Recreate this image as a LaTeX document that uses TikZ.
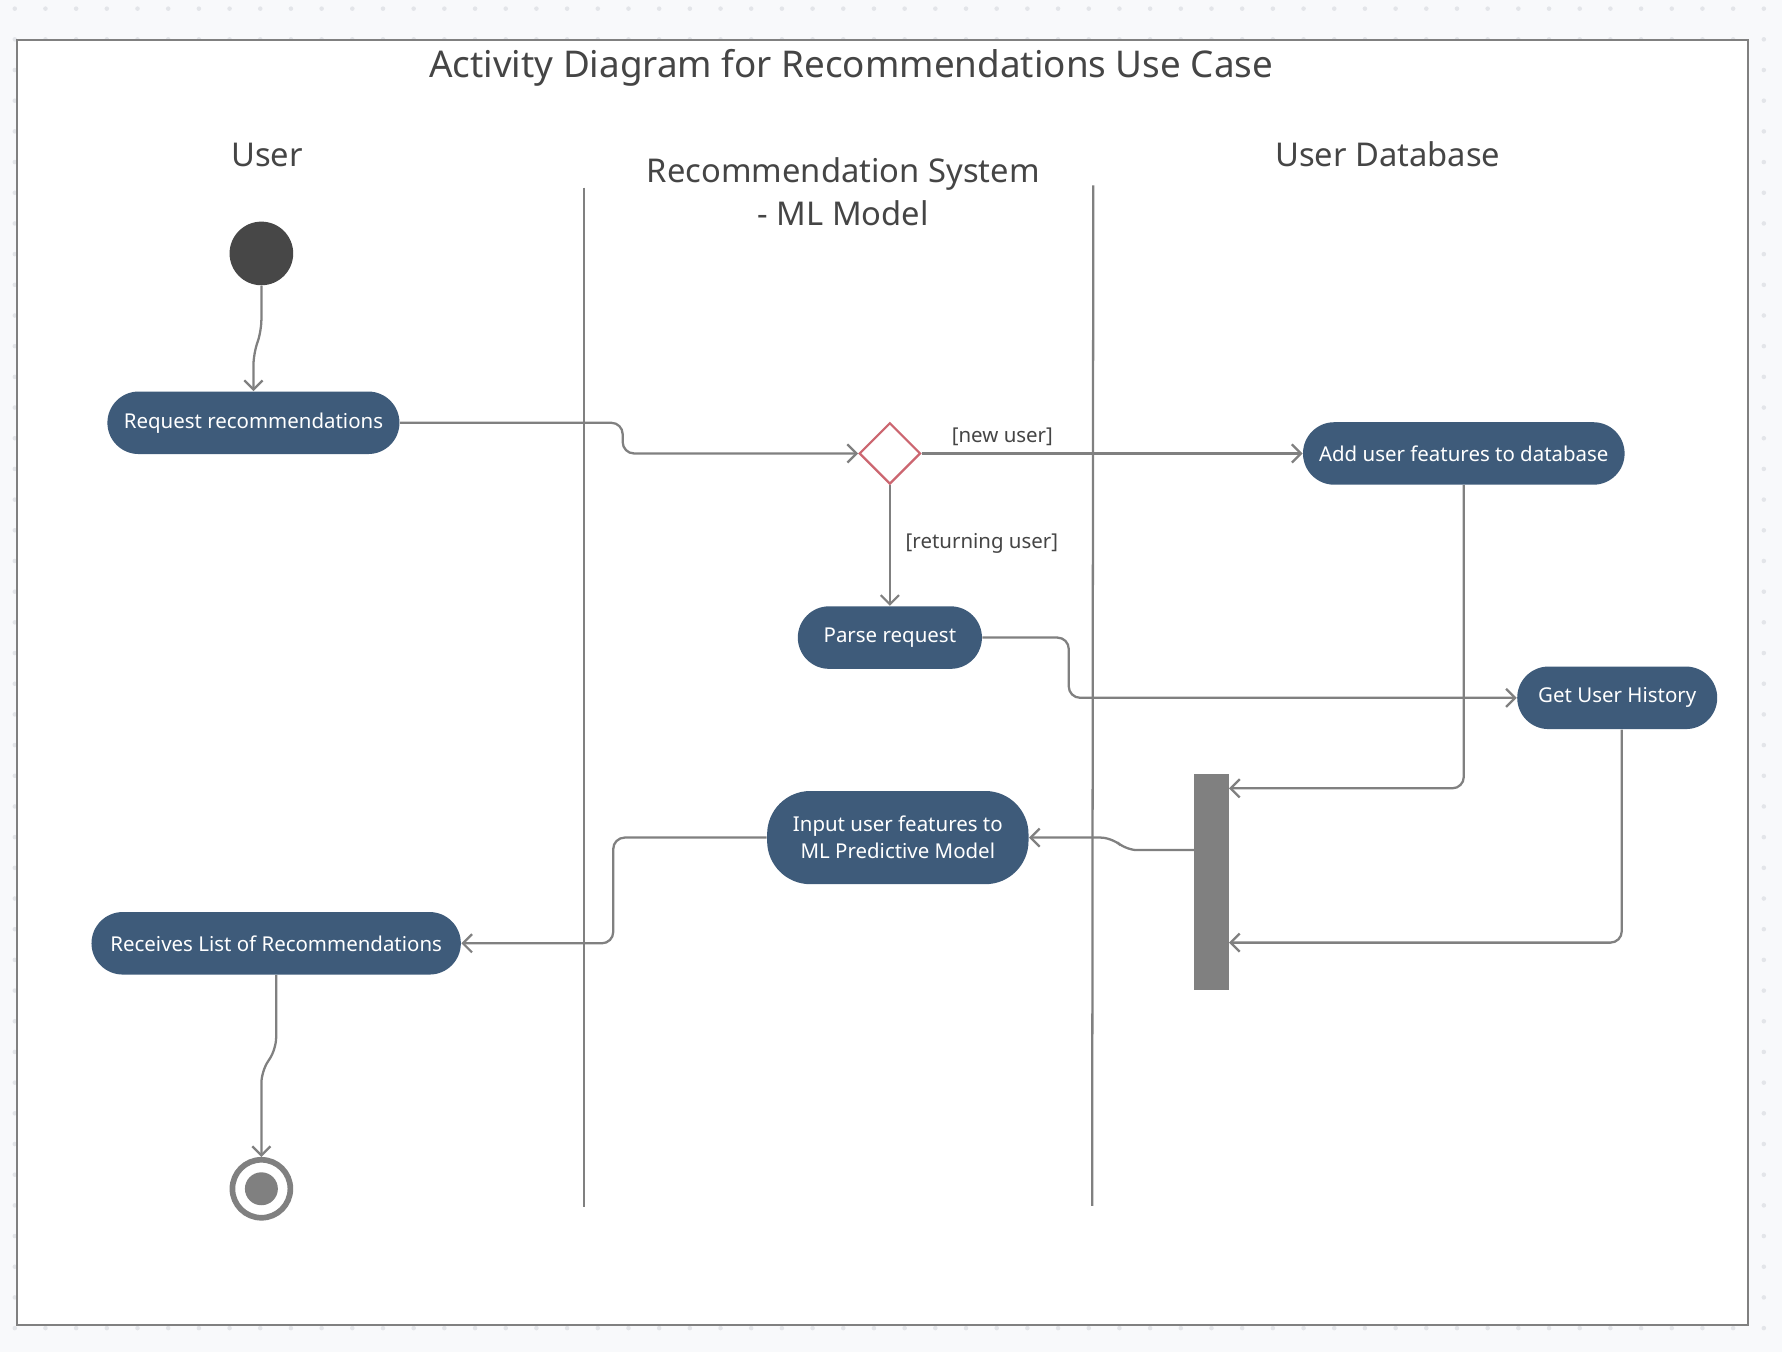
\documentclass[tikz,border=0pt]{standalone}
\usepackage{fontspec}
\setmainfont{Noto Sans}
\usetikzlibrary{arrows.meta,shapes.geometric}
\definecolor{actfill}{HTML}{3E5B7A}
\definecolor{linegray}{HTML}{808080}
\definecolor{textgray}{HTML}{454545}
\definecolor{startgray}{HTML}{474747}
\definecolor{decred}{HTML}{CC6670}
\definecolor{pagebg}{HTML}{F8F9FB}
\definecolor{dotgray}{HTML}{E3E5E9}

\begin{document}
\begin{tikzpicture}[x=0.5pt,y=-0.5pt]
	\tikzstyle{every node}+=[inner sep=0pt]
	\tikzstyle{action}=[rectangle, rounded corners=13.75pt, fill=actfill, text=white, font=\fontsize{9}{12}\selectfont, minimum height=27.5pt, align=center]
	\tikzstyle{flow}=[linegray, line width=1pt, rounded corners=5pt, -{Straight Barb[length=4pt,width=8pt]}]
	\tikzstyle{lane}=[linegray, line width=1pt]
	\tikzstyle{guard}=[text=textgray, font=\fontsize{9}{11}\selectfont]
	\tikzstyle{heading}=[text=textgray, font=\fontsize{14.4}{19}\selectfont, align=center]
	\useasboundingbox (0,0) rectangle (1568,1190);
	\fill [pagebg] (0,0) rectangle (1568,1190);
	\foreach \i in {0,...,57}
		\foreach \j in {0,...,43}
			\fill [dotgray] (13+27*\i,7.6+27*\j) circle (1pt);
	\draw [linegray, line width=1pt, fill=white] (15,35) rectangle (1538,1166);
	\node [text=textgray, font=\fontsize{16.2}{19}\selectfont] (title) at (749,60) {Activity Diagram for Recommendations Use Case};
	\node [heading] (userlane) at (235,136) {User};
	\node [heading] (mllane) at (742,169) {Recommendation System\\- ML Model};
	\node [heading] (dblane) at (1221,136) {User Database};
	\draw [lane] (514,165) -- (514,1062);
	\draw [lane] (962,163) -- (961,1061);
	\node [circle, fill=startgray, minimum size=28pt] (start) at (230,223) {};
	\node [action, minimum width=128.5pt] (req) at (223,372) {Request recommendations};
	\node [diamond, draw=decred, line width=1pt, fill=white, minimum width=27pt, minimum height=27pt] (dec) at (783,399) {};
	\node [action, minimum width=141.5pt] (add) at (1288,399) {Add user features to database};
	\node [action, minimum width=81pt] (parse) at (783,561) {Parse request};
	\node [action, minimum width=88pt] (hist) at (1423,614) {Get User History};
	\node [rectangle, fill=linegray, minimum width=15pt, minimum height=95pt] (bar) at (1066,776) {};
	\node [action, minimum width=115pt, minimum height=41pt, rounded corners=19pt] (input) at (790,737) {Input user features to\\ ML Predictive Model};
	\node [action, minimum width=162.5pt] (recv) at (243,830) {Receives List of Recommendations};
	\node [circle, draw=linegray, line width=2.5pt, minimum size=25.5pt] (stop) at (230,1046) {};
	\fill [linegray] (stop.center) circle (7.25pt);
	\node [guard] (newuser) at (882,384) {[new user]};
	\node [guard] (retuser) at (864,478) {[returning user]};
	\draw [flow] (start.south) -- ++(0,40) -- ++(-7,20) -- (req.north);
	\draw [flow] (req.east) -- ++(196,0) |- (dec.west);
	\draw [flow] (dec.east) -- (add.west);
	\draw [flow] (dec.south) -- (parse.north);
	\draw [flow] (parse.east) -- ++(76,0) |- (hist.west);
	\draw [flow] (add.south) |- ([yshift=-6.5pt]bar.north east);
	\draw [flow] ([xshift=2pt]hist.south) |- ([yshift=21pt]bar.south east);
	\draw [flow] ([yshift=14pt]bar.west) -- ++(-60,0) -- ++(-12,-11) -- (input.east);
	\draw [flow] (input.west) -- ++(-135,0) |- (recv.east);
	\draw [flow] (recv.south) -- ++(0,65) -- ++(-13,20) -- (stop.north);
\end{tikzpicture}
\end{document}
